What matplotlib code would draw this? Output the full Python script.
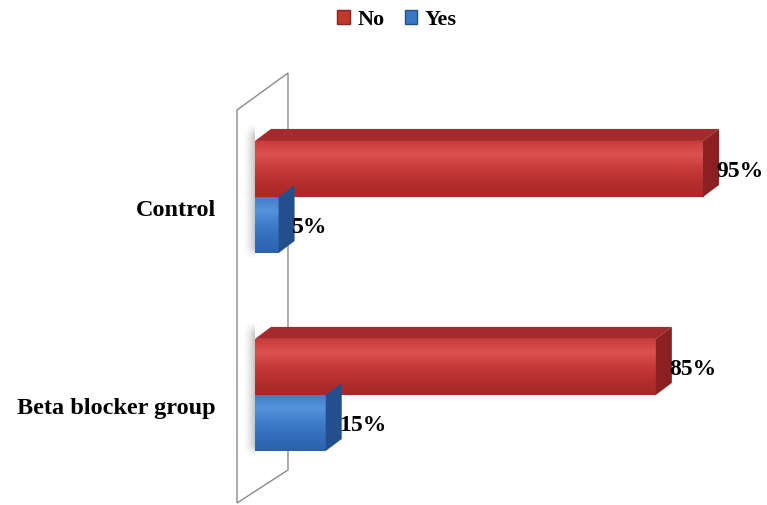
import matplotlib
matplotlib.use("Agg")
import matplotlib.pyplot as plt
from matplotlib.patches import Polygon, Patch
from matplotlib.colors import LinearSegmentedColormap
import numpy as np

# ---------------- data ----------------
categories = ["Beta blocker group", "Control"]
series_names = ["No", "Yes"]
no_values = [85, 95]
yes_values = [15, 5]
no_labels = ["85%", "95%"]
yes_labels = ["15%", "5%"]

# ---------------- figure ----------------
W, H, DPI = 767, 505, 100
fig = plt.figure(figsize=(W / DPI, H / DPI), dpi=DPI)
ax = fig.add_axes([0, 0, 1, 1])
XMIN, XMAX = -54.07, 108.57
YMIN, YMAX = -0.556, 1.995
ax.set_xlim(XMIN, XMAX)
ax.set_ylim(YMIN, YMAX)
ax.axis("off")

ppx = W / (XMAX - XMIN)
ppy = H / (YMAX - YMIN)


def dxp(p):
    return p / ppx


def dyp(p):
    return p / ppy


FONT = "Liberation Serif"
BAR_H = 0.283
DX, DY = dxp(16), dyp(12)

styles = {
    "No": dict(grad=["#c73a3a", "#dc5250", "#c83a3a", "#b52e2e", "#a82828"],
               face_top="#a52a2b", side="#8c2020", legend="#c0392b", edge="#8a2020"),
    "Yes": dict(grad=["#3f7dca", "#5692dc", "#3e7cca", "#336dbb", "#2c62ad"],
                face_top="#5d95d8", side="#23508c", legend="#3a78c6", edge="#24508a"),
}

# ---------------- back wall ----------------
wall = Polygon([(dxp(-18), YMAX - dyp(110)), (dxp(33), YMAX - dyp(73)),
                (dxp(33), YMAX - dyp(470)), (dxp(-18), YMAX - dyp(503))],
               closed=True, facecolor="white", edgecolor="#8a8a8a", lw=1.0, zorder=1)
ax.add_patch(wall)

y = np.arange(len(categories))

# soft shadows on the wall, behind each category group
for yi in y:
    nx, ny = 40, 80
    xs = np.linspace(0, 1, nx)
    ys = np.linspace(-1, 1, ny)
    ax_alpha = xs ** 1.5
    ay_alpha = np.clip((1 - np.abs(ys)) * 6, 0, 1)
    alpha = 0.35 * np.outer(ay_alpha, ax_alpha)
    rgba = np.zeros((ny, nx, 4))
    rgba[..., :3] = 0.35
    rgba[..., 3] = alpha
    ax.imshow(rgba, aspect="auto", origin="lower", interpolation="bilinear",
              extent=(dxp(-12), 0, yi - BAR_H - dyp(6), yi + BAR_H + DY + dyp(4)), zorder=2)


def draw_series(vals, labels, yc, name):
    st = styles[name]
    cmap = LinearSegmentedColormap.from_list(name, st["grad"])
    bars = ax.barh(yc, vals, height=BAR_H, left=0, color=st["grad"][2], edgecolor="none", zorder=3)
    for b, v, lab in zip(bars, vals, labels):
        x0, y0 = b.get_x(), b.get_y()
        w, h = b.get_width(), b.get_height()
        # gradient front face
        grad = np.linspace(0, 1, 100).reshape(-1, 1)
        im = ax.imshow(grad, cmap=cmap, aspect="auto", extent=(x0, x0 + w, y0, y0 + h),
                       origin="upper", zorder=3.1)
        im.set_clip_path(b)
        # top face
        ax.add_patch(Polygon([(x0, y0 + h), (x0 + w, y0 + h), (x0 + w + DX, y0 + h + DY), (x0 + DX, y0 + h + DY)],
                             closed=True, facecolor=st["face_top"], edgecolor="none", zorder=2.9))
        # side face
        ax.add_patch(Polygon([(x0 + w, y0), (x0 + w, y0 + h), (x0 + w + DX, y0 + h + DY), (x0 + w + DX, y0 + DY)],
                             closed=True, facecolor=st["side"], edgecolor="none", zorder=3.2))
        ax.text(x0 + w + dxp(13), y0 + h / 2 - dyp(3), lab, fontsize=17, fontweight="bold",
                family=FONT, ha="left", va="center", zorder=6)


# blue (Yes) first so red (No) covers its top face
draw_series(yes_values, yes_labels, y - BAR_H / 2, "Yes")
draw_series(no_values, no_labels, y + BAR_H / 2 + 0.0001, "No")

# category labels
for yi, cat in zip(y, categories):
    ax.text(dxp(-39), yi - dyp(14), cat, fontsize=17.5, fontweight="bold", family=FONT,
            ha="right", va="center", zorder=6)

# legend
handles = [Patch(facecolor=styles[n]["legend"], edgecolor=styles[n]["edge"], label=n) for n in series_names]
leg = fig.legend(handles=handles, loc="center", bbox_to_anchor=(397 / W, 1 - 20 / H), ncol=2,
                 frameon=False, handlelength=0.55, handleheight=0.55, handletextpad=0.35,
                 columnspacing=0.9, prop=dict(family=FONT, weight="bold", size=16))

fig.savefig("out.png", dpi=DPI)
